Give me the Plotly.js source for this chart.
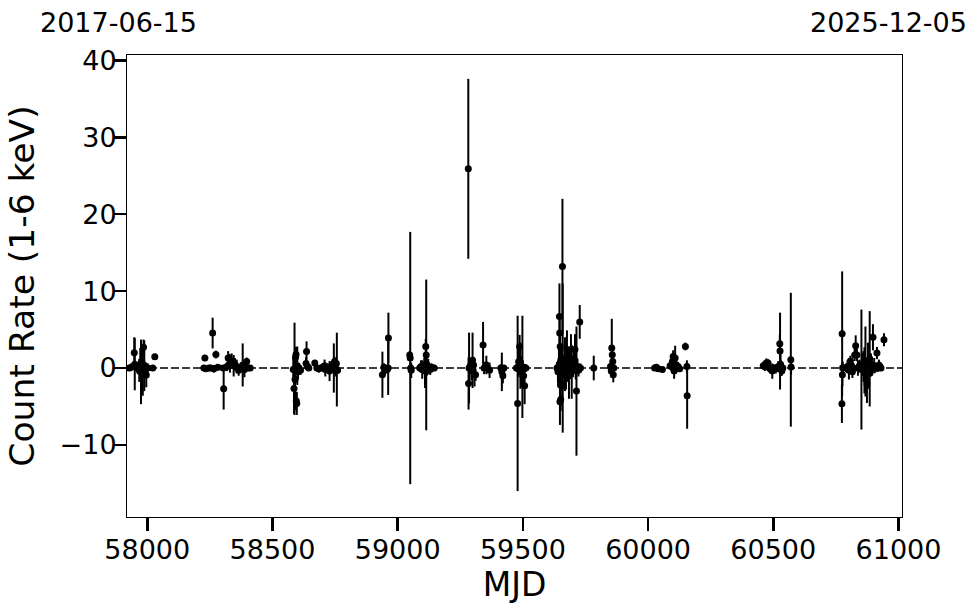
<!DOCTYPE html>
<html>
<head>
<meta charset="utf-8">
<script src="https://cdn.plot.ly/plotly-3.0.1.min.js"></script>
<style>html,body{margin:0;padding:0;background:#fff;}#chart{width:980px;height:613px;}</style>
</head>
<body>
<div id="chart"></div>
<script>
// ---- data ----
const mjd = [
  57928,57936,57948,57950,57962,57968,57972,57975,57978,57982,57985,57988,57990,57993,57996,58002,58022,58030,
  58226,58230,58234,58246,58253,58261,58266,58274,58282,58303,58305,58318,58323,58330,58337,58345,58350,58357,58365,58371,58381,58388,58397,58403,58411,
  58583,58586,58588,58590,58592,58594,58595,58597,58599,58602,58606,58612,58634,58636,58640,58645,
  58669,58677,58685,58693,58700,58708,58711,58720,58728,58735,58745,58748,58752,58755,58757,58760,
  58939,58945,58949,58958,58962,58963,
  59048,59050,59052,59054,
  59088,59093,59098,59102,59106,59109,59112,59114,59116,59118,59122,59126,59130,59135,59140,59146,
  59282,59283,59285,59290,59294,59299,59303,59307,59311,59341,59345,59354,59360,59367,59412,59416,59420,59424,
  59474,59479,59483,59487,59490,59494,59498,59500,59503,59507,59512,
  59636,59640,59644,59646,59647,59648,59649,59650,59651,59652,59654,59658,59659,59662,59665,59668,59672,59676,59680,59684,59688,59692,59695,59700,59704,59708,59711,59714,59718,59722,59727,59730,
  59783,59850,59853,59855,59857,59859,59861,59863,
  60026,60033,60040,60057,
  60088,60093,60097,60100,60104,60108,60112,60115,60120,60126,60149,60155,60156,
  60460,60466,60472,60479,60484,60490,60496,60500,60510,60520,60526,60527,60529,60531,60534,60538,60570,60571,
  60774,60775,60776,60777,60790,60796,60802,60808,60812,60816,60820,60825,60829,60834,60838,60844,60852,60856,60860,60864,60868,60874,60878,60885,60890,60895,60898,60903,60908,60914,60918,60922,60926,60930,60942
];
const rate = [
  0.0,0.1,2.0,0.5,0.0,-0.3,0.4,-0.5,0.8,-0.6,2.7,0.3,-0.2,0.0,-0.9,0.0,0.0,1.45,
  0.0,1.3,-0.1,0.0,0.0,4.55,-0.1,1.75,0.1,0.0,-2.7,0.2,1.3,0.6,0.9,0.3,0.5,0.2,-0.3,0.0,0.4,-0.2,0.86,0.0,0.0,
  -0.2,-2.65,-0.1,-1.5,1.4,1.75,-4.3,-4.6,0.3,-0.5,0.0,-0.3,0.6,2.16,0.2,0.0,
  0.65,0.0,-0.1,0.0,0.1,0.3,-0.2,0.0,-0.4,0.2,0.0,0.86,-0.3,0.6,-0.2,-0.3,
  -0.87,0.1,-0.3,-0.2,0.0,3.9,
  1.7,1.3,0.0,-0.3,
  0.0,0.2,-0.2,0.1,0.3,-0.4,2.8,1.7,0.5,-0.1,0.2,0.0,-0.2,0.1,0.0,0.0,
  25.9,-2.0,0.0,0.3,-0.4,1.0,0.4,-0.9,-0.87,3.0,0.0,0.4,0.0,-0.3,0.0,-0.5,-1.0,0.0,
  0.0,-4.6,0.8,2.8,0.3,-0.5,0.15,0.0,-1.0,-2.3,0.0,
  0.0,-0.5,0.3,6.7,4.55,-4.4,2.8,-2.2,-4.1,1.1,0.0,13.2,1.3,0.0,-0.8,0.5,-0.3,2.4,0.2,-1.0,0.8,2.4,-0.5,0.0,1.2,2.4,0.0,-3.0,0.2,-0.3,6.0,0.0,
  0.0,0.2,-0.4,2.6,1.73,0.86,-0.86,0.0,
  0.0,0.1,-0.1,-0.2,
  0.3,0.2,0.86,1.5,-0.4,1.3,0.4,0.0,0.2,-0.1,2.8,0.2,-3.6,
  0.3,0.2,0.65,0.65,0.0,-0.2,-0.4,0.0,-0.1,0.2,3.16,2.2,0.5,0.0,-0.4,0.0,1.08,0.13,
  -4.64,4.46,-0.87,0.05,0.0,0.2,-0.3,0.9,0.3,-0.5,0.0,1.7,2.9,1.7,0.0,0.3,-0.2,0.5,0.2,-0.3,0.85,-2.04,0.3,1.2,0.4,0.0,4.0,0.3,0.0,1.95,0.0,0.4,0.2,0.0,3.68
];
const rateErr = [
  0.3,0.5,2.0,3.4,0.8,1.5,2.2,4.2,2.0,3.0,1.0,3.3,1.0,0.5,1.6,0.6,0.3,0.4,
  0.3,0.4,0.4,0.3,0.4,2.0,0.5,0.5,0.4,0.3,2.7,0.6,0.9,1.2,1.0,1.4,0.8,0.9,0.7,0.4,2.8,1.0,0.5,0.4,0.3,
  1.5,3.3,6.0,3.9,1.0,1.0,1.2,1.5,2.5,1.0,0.5,0.6,0.8,1.3,0.6,0.3,
  0.4,0.3,0.5,0.4,0.5,0.8,0.9,0.6,1.3,0.7,3.2,0.6,0.8,0.7,4.8,0.5,
  3.0,0.5,0.6,0.5,3.5,3.3,
  0.5,16.4,0.6,1.0,
  0.5,0.8,1.2,0.6,1.0,2.2,1.0,9.8,1.5,0.8,1.0,0.6,0.7,0.5,0.4,0.3,
  11.7,3.4,4.6,0.9,1.2,3.6,1.0,1.5,0.8,3.0,0.8,1.2,0.6,1.0,0.5,2.5,1.0,0.4,
  0.5,11.4,2.0,1.5,3.0,2.0,6.65,1.0,1.5,2.4,0.5,
  0.8,1.5,2.5,4.3,2.0,3.0,1.5,2.0,1.5,2.0,3.0,8.8,9.7,1.0,2.0,3.5,2.5,2.5,2.0,3.0,1.5,2.0,3.5,1.2,1.5,2.0,1.5,8.4,1.0,0.8,2.2,0.6,
  1.6,0.5,0.8,3.8,1.0,1.2,1.0,0.5,
  0.3,0.4,0.3,0.4,
  0.5,0.6,0.8,0.8,1.0,1.6,0.9,0.5,0.6,0.4,0.5,0.8,4.3,
  0.5,0.6,0.6,0.5,0.5,0.4,1.0,0.5,0.6,0.7,1.2,5.0,1.5,1.0,0.6,0.4,8.7,1.0,
  2.5,8.1,1.5,0.8,0.5,0.8,1.2,0.7,1.0,0.8,0.6,0.8,1.35,0.8,1.0,0.8,7.8,1.5,2.0,3.0,4.55,2.5,3.0,6.2,1.5,1.0,1.7,1.0,0.6,0.8,0.5,0.7,0.5,0.4,0.85
];
const xTickVals = [58000, 58500, 59000, 59500, 60000, 60500, 61000];
const yTickVals = [-10, 0, 10, 20, 30, 40];
const xRange = [57919, 61014];
const yRange = [-19.37, 40.7];
const topLabels = ['2017-06-15', '2025-12-05'];
const xTitle = 'MJD';
const yTitle = 'Count Rate (1-6 keV)';

// ---- drawing ----
const FONT = 'DejaVu Sans, sans-serif';
const trace = {
  type: 'scatter', mode: 'markers',
  x: mjd, y: rate,
  error_y: { type: 'data', array: rateErr, visible: true, color: '#000', thickness: 2, width: 0 },
  marker: { color: '#000', size: 7 },
  hoverinfo: 'x+y'
};
const axisCommon = {
  showgrid: false, zeroline: false,
  showline: true, linecolor: '#000', linewidth: 1, mirror: true,
  ticks: 'outside', ticklen: 13, tickwidth: 2.5, tickcolor: '#000',
  tickfont: { family: FONT, size: 27, color: '#000' }
};
const layout = {
  width: 980, height: 613,
  margin: { l: 127, r: 78, t: 55, b: 96 },
  paper_bgcolor: '#fff', plot_bgcolor: '#fff',
  showlegend: false,
  font: { family: FONT, color: '#000' },
  xaxis: Object.assign({}, axisCommon, {
    range: xRange, tickmode: 'array', tickvals: xTickVals,
    ticktext: xTickVals.map(String), ticklabelstandoff: -4,
    title: { text: xTitle, font: { family: FONT, size: 33, color: '#000' }, standoff: 8 }
  }),
  yaxis: Object.assign({}, axisCommon, {
    range: yRange, tickmode: 'array', tickvals: yTickVals, ticklabelstandoff: -9,
    title: { text: yTitle, font: { family: FONT, size: 34.5, color: '#000' }, standoff: 14 }
  }),
  shapes: [{
    type: 'line', xref: 'paper', x0: 0, x1: 1, yref: 'y', y0: 0, y1: 0,
    line: { color: '#000', width: 1.6, dash: '8px,3px' }, layer: 'below'
  }],
  annotations: [
    { text: topLabels[0], xref: 'paper', yref: 'paper', x: -0.0116, y: 1.0703,
      xanchor: 'center', yanchor: 'middle', showarrow: false,
      font: { family: FONT, size: 27, color: '#000' } },
    { text: topLabels[1], xref: 'paper', yref: 'paper', x: 0.9832, y: 1.0703,
      xanchor: 'center', yanchor: 'middle', showarrow: false,
      font: { family: FONT, size: 27, color: '#000' } }
  ]
};
Plotly.newPlot('chart', [trace], layout, { displayModeBar: false, staticPlot: true });
</script>
</body>
</html>
